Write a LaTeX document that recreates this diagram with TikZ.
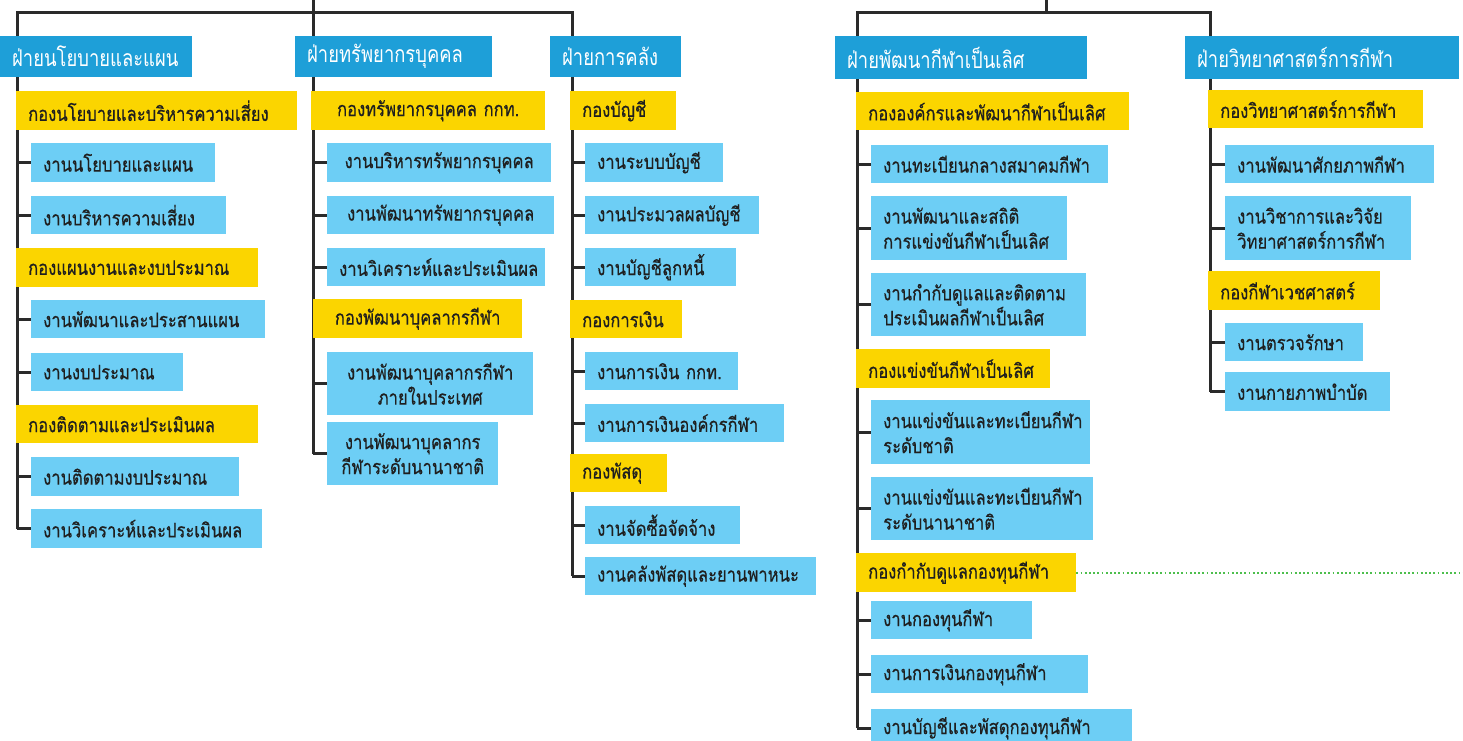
\documentclass[tikz,border=0pt]{standalone}
\usepackage{fontspec}
\newfontfamily\thai[Script=Thai,FakeStretch=0.83,FakeBold=0.5]{Loma}
\newfontfamily\thaih[Script=Thai,FakeStretch=0.8]{Loma}
\pgfdeclarelayer{bg}
\pgfsetlayers{bg,main}
\definecolor{hblue}{HTML}{1E9FD8}
\definecolor{ylw}{HTML}{FBD500}
\definecolor{lbl}{HTML}{6DCEF5}
\definecolor{lnc}{HTML}{2A2A2A}
\definecolor{txt}{HTML}{1F1F1F}
\definecolor{grn}{HTML}{4DBF4D}
\tikzset{
  base/.style={anchor=north west, inner xsep=12pt, inner ysep=0pt, text=txt, align=left,
    font=\thai\fontsize{20}{25}\selectfont},
  head/.style={base, fill=hblue, text=white, font=\thaih\fontsize{23}{26}\selectfont},
  dept/.style={base, fill=ylw},
  job/.style={base, fill=lbl},
  ctr/.style={align=center},
  conn/.style={draw=lnc, line width=3pt, line join=miter},
  gdot/.style={draw=grn, line width=1.8pt, dash pattern=on 1.8pt off 2.4pt},
}
\newcommand\bx[7]{%
  \pgfmathsetmacro\bxw{#5-#3-24}\pgfmathsetmacro\bxh{#6-#4}%
  \node[#1, text width=\bxw pt, minimum height=\bxh pt] (#2) at (#3,#4) {#7};}
\begin{document}
\begin{tikzpicture}[x=1pt,y=-1pt]
\useasboundingbox (0,0) rectangle (1463,740);
% column 1
\bx{head}{H1}{0}{36}{192}{77}{ฝ่ายนโยบายและแผน}
\bx{dept}{Y11}{16}{91}{297}{130}{กองนโยบายและบริหารความเสี่ยง}
\bx{job}{L111}{31}{143}{215}{182}{งานนโยบายและแผน}
\bx{job}{L112}{31}{196}{226}{234}{งานบริหารความเสี่ยง}
\bx{dept}{Y12}{16}{248}{258}{287}{กองแผนงานและงบประมาณ}
\bx{job}{L121}{31}{300}{265}{338}{งานพัฒนาและประสานแผน}
\bx{job}{L122}{31}{353}{183}{391}{งานงบประมาณ}
\bx{dept}{Y13}{16}{405}{258}{443}{กองติดตามและประเมินผล}
\bx{job}{L131}{31}{457}{239}{496}{งานติดตามงบประมาณ}
\bx{job}{L132}{31}{509}{262}{548}{งานวิเคราะห์และประเมินผล}
% column 2
\bx{head}{H2}{295}{36}{492}{77}{ฝ่ายทรัพยากรบุคคล}
\bx{dept,ctr}{Y21}{311}{91}{545}{130}{กองทรัพยากรบุคคล กกท.}
\bx{job,ctr}{L211}{327}{143}{551}{182}{งานบริหารทรัพยากรบุคคล}
\bx{job,ctr}{L212}{327}{196}{554}{234}{งานพัฒนาทรัพยากรบุคคล}
\bx{job,ctr}{L213}{327}{248}{545}{286}{งานวิเคราะห์และประเมินผล}
\bx{dept,ctr}{Y22}{313}{299}{522}{338}{กองพัฒนาบุคลากรกีฬา}
\bx{job,ctr}{L221}{327}{352}{533}{415}{งานพัฒนาบุคลากรกีฬา\\ภายในประเทศ}
\bx{job,ctr}{L222}{327}{422}{498}{485}{งานพัฒนาบุคลากร\\กีฬาระดับนานาชาติ}
% column 3
\bx{head}{H3}{550}{36}{681}{77}{ฝ่ายการคลัง}
\bx{dept}{Y31}{570}{91}{676}{130}{กองบัญชี}
\bx{job}{L311}{585}{143}{723}{182}{งานระบบบัญชี}
\bx{job}{L312}{585}{196}{759}{234}{งานประมวลผลบัญชี}
\bx{job}{L313}{585}{248}{736}{286}{งานบัญชีลูกหนี้}
\bx{dept}{Y32}{570}{300}{682}{338}{กองการเงิน}
\bx{job}{L321}{585}{352}{738}{390}{งานการเงิน กกท.}
\bx{job}{L322}{585}{404}{784}{442}{งานการเงินองค์กรกีฬา}
\bx{dept}{Y33}{570}{454}{667}{492}{กองพัสดุ}
\bx{job}{L331}{585}{506}{740}{544}{งานจัดซื้อจัดจ้าง}
\bx{job}{L332}{585}{557}{816}{595}{งานคลังพัสดุและยานพาหนะ}
% column 4
\bx{head}{H4}{835}{36}{1087}{79}{ฝ่ายพัฒนากีฬาเป็นเลิศ}
\bx{dept}{Y41}{856}{92}{1129}{130}{กององค์กรและพัฒนากีฬาเป็นเลิศ}
\bx{job}{L411}{871}{145}{1108}{183}{งานทะเบียนกลางสมาคมกีฬา}
\bx{job}{L412}{871}{196}{1067}{260}{งานพัฒนาและสถิติ\\การแข่งขันกีฬาเป็นเลิศ}
\bx{job}{L413}{871}{273}{1086}{336}{งานกำกับดูแลและติดตาม\\ประเมินผลกีฬาเป็นเลิศ}
\bx{dept}{Y42}{856}{349}{1050}{388}{กองแข่งขันกีฬาเป็นเลิศ}
\bx{job}{L421}{871}{400}{1090}{464}{งานแข่งขันและทะเบียนกีฬา\\ระดับชาติ}
\bx{job}{L422}{871}{477}{1093}{540}{งานแข่งขันและทะเบียนกีฬา\\ระดับนานาชาติ}
\bx{dept}{Y43}{856}{553}{1076}{592}{กองกำกับดูแลกองทุนกีฬา}
\bx{job}{L431}{871}{601}{1032}{639}{งานกองทุนกีฬา}
\bx{job}{L432}{871}{655}{1088}{693}{งานการเงินกองทุนกีฬา}
\bx{job}{L433}{871}{709}{1132}{747}{งานบัญชีและพัสดุกองทุนกีฬา}
% column 5
\bx{head}{H5}{1185}{36}{1459}{79}{ฝ่ายวิทยาศาสตร์การกีฬา}
\bx{dept}{Y51}{1208}{90}{1423}{128}{กองวิทยาศาสตร์การกีฬา}
\bx{job}{L511}{1225}{145}{1434}{183}{งานพัฒนาศักยภาพกีฬา}
\bx{job}{L512}{1225}{196}{1411}{260}{งานวิชาการและวิจัย\\วิทยาศาสตร์การกีฬา}
\bx{dept}{Y52}{1208}{271}{1380}{310}{กองกีฬาเวชศาสตร์}
\bx{job}{L521}{1225}{323}{1363}{361}{งานตรวจรักษา}
\bx{job}{L522}{1225}{372}{1390}{411}{งานกายภาพบำบัด}
% coordinates
\coordinate (c1) at (17,12);
\coordinate (c2) at (313,12);
\coordinate (c3) at (572,12);
\coordinate (c4) at (857,12);
\coordinate (c5) at (1210,12);
\coordinate (r1) at (313,0);
\coordinate (r2) at (1046,0);
\coordinate (gend) at (1463,569);
\begin{pgfonlayer}{bg}
\draw[conn] (c1 |- L132.west) -- (c1) -- (c3) -- (c3 |- L332.west);
\draw[conn] (r1) -- (c2 |- L222.west);
\draw[conn] (c4 |- L433.west) -- (c4) -- (c5) -- (c5 |- L522.west);
\draw[conn] (r2) -- (r2 |- c4);
\foreach \n in {L111,L112,L121,L122,L131,L132} \draw[conn] (c1 |- \n.west) -- (\n.west);
\foreach \n in {L211,L212,L213,L221,L222} \draw[conn] (c2 |- \n.west) -- (\n.west);
\foreach \n in {L311,L312,L313,L321,L322,L331,L332} \draw[conn] (c3 |- \n.west) -- (\n.west);
\foreach \n in {L411,L412,L413,L421,L422,L431,L432,L433} \draw[conn] (c4 |- \n.west) -- (\n.west);
\foreach \n in {L511,L512,L521,L522} \draw[conn] (c5 |- \n.west) -- (\n.west);
\end{pgfonlayer}
\draw[gdot] (Y43.east) -- (Y43.east -| gend);
\end{tikzpicture}
\end{document}
